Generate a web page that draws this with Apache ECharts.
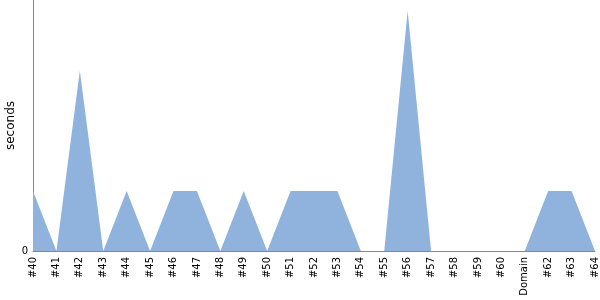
<!DOCTYPE html>
<html><head><meta charset="utf-8">
<script src="https://cdn.jsdelivr.net/npm/echarts@6/dist/echarts.min.js"></script>
<style>html,body{margin:0;padding:0;background:#fff}#c{width:600px;height:300px}</style>
</head><body><div id="c"></div>
<script>
const categories = ['#40','#41','#42','#43','#44','#45','#46','#47','#48','#49','#50','#51','#52','#53','#54','#55','#56','#57','#58','#59','#60','Domain','#62','#63','#64'];
const seconds = [1,0,3,0,1,0,1,1,0,1,0,1,1,1,0,0,4,0,0,0,0,0,1,1,0];
const yTicks = [0];
const chart = echarts.init(document.getElementById('c'), null, {renderer:'canvas'});
chart.setOption({
  animation:false,
  grid:{left:33,right:5,top:0,bottom:49,containLabel:false,outerBoundsMode:'none'},
  xAxis:{type:'category',data:categories,boundaryGap:false,
    axisLine:{lineStyle:{color:'#888',width:1}},axisTick:{show:false},
    axisLabel:{rotate:90,interval:0,color:'#000',fontFamily:'DejaVu Sans',fontSize:10,margin:6}},
  yAxis:{type:'value',min:0,max:4.18,interval:5,name:'seconds',nameLocation:'middle',nameGap:16,
    nameMoveOverlap:false,
    nameTextStyle:{fontFamily:'DejaVu Sans',fontSize:12,color:'#000'},
    axisLine:{show:true,lineStyle:{color:'#888',width:1}},axisTick:{show:false},splitLine:{show:false},
    axisLabel:{color:'#000',fontFamily:'DejaVu Sans',fontSize:10,margin:5,
      formatter:v=>yTicks.includes(v)?String(v):''}},
  series:[{type:'line',data:seconds,symbol:'none',lineStyle:{width:0},
    areaStyle:{color:'#8fb3dc',opacity:1}}]
});
</script></body></html>
